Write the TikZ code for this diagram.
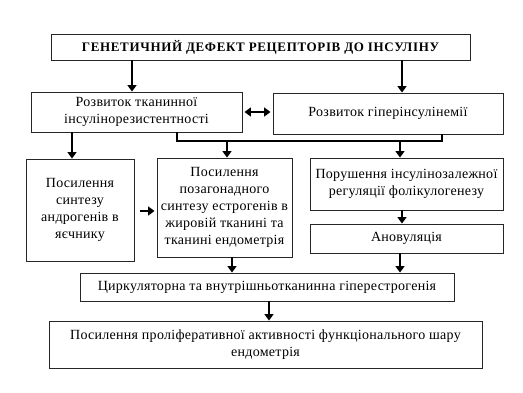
\documentclass[tikz,border=0pt]{standalone}
\usepackage{fontspec}
\setmainfont{Liberation Serif}[LetterSpace=2]
\usetikzlibrary{arrows.meta,calc}
\begin{document}
\begin{tikzpicture}[x=1pt,y=-1pt,
  box/.style={draw=black!85,line width=0.9pt,align=center,inner sep=1pt,font=\fontsize{14}{17}\selectfont},
  arr/.style={line width=1.8pt,-{Triangle[width=9pt,length=6.5pt]}},
  dbl/.style={line width=1.8pt,{Triangle[width=9pt,length=6.5pt]}-{Triangle[width=9pt,length=6.5pt]}},
  lnk/.style={line width=1.8pt}]
\useasboundingbox (0,0) rectangle (523,392);
\node[box,minimum width=419pt,minimum height=26pt,font=\fontsize{13}{15}\selectfont] (top) at (260.5,47)
  {\addfontfeatures{LetterSpace=5}\bfseries ГЕНЕТИЧНИЙ ДЕФЕКТ РЕЦЕПТОРІВ ДО ІНСУЛІНУ};
\node[box,minimum width=211pt,minimum height=40pt] (A) at (136.5,112)
  {Розвиток тканинної\\інсулінорезистентності};
\node[box,minimum width=230pt,minimum height=41pt] (B) at (388,113.5)
  {Розвиток гіперінсулінемії};
\node[box,minimum width=108pt,minimum height=102pt] (C) at (80,210)
  {Посилення\\синтезу\\андрогенів в\\яєчнику};
\node[box,minimum width=135pt,minimum height=99pt] (D) at (224.5,207.5)
  {Посилення\\позагонадного\\синтезу естрогенів в\\жировій тканині та\\тканині ендометрія};
\node[box,minimum width=193pt,minimum height=52pt] (E) at (406.5,184)
  {Порушення інсулінозалежної\\регуляції фолікулогенезу};
\node[box,minimum width=193pt,minimum height=29pt] (F) at (406.5,238.5)
  {Ановуляція};
\node[box,minimum width=374pt,minimum height=28pt] (G) at (267,287)
  {Циркуляторна та внутрішньотканинна гіперестрогенія};
\node[box,minimum width=433pt,minimum height=47pt] (H) at (265.5,344.5)
  {Посилення проліферативної активності функціонального шару\\ендометрія};
\coordinate (jl) at (177,141);
\coordinate (jr) at (442,141);
\draw[arr] (top.south -| 132,0) -- (A.north -| 132,0);
\draw[arr] (top.south -| 402,0) -- (B.north -| 402,0);
\draw[dbl,shorten <=2pt,shorten >=2pt] (A.east) -- (A.east -| B.west);
\draw[lnk] (A.south -| jl) -- (jl) -- (jr) -- (B.south -| jr);
\draw[arr] (jl -| 227,0) -- (D.north -| 227,0);
\draw[arr] (jr -| 400,0) -- (E.north -| 400,0);
\draw[arr] (A.south -| 72,0) -- (C.north -| 72,0);
\draw[arr,shorten <=6pt,shorten >=2pt] (C.east |- 0,211) -- (D.west |- 0,211);
\draw[arr] (E.south -| 402,0) -- (F.north -| 402,0);
\draw[arr] (D.south -| 232,0) -- (G.north -| 232,0);
\draw[arr] (F.south -| 400,0) -- (G.north -| 400,0);
\draw[arr] (G.south -| 269,0) -- (H.north -| 269,0);
\end{tikzpicture}
\end{document}
